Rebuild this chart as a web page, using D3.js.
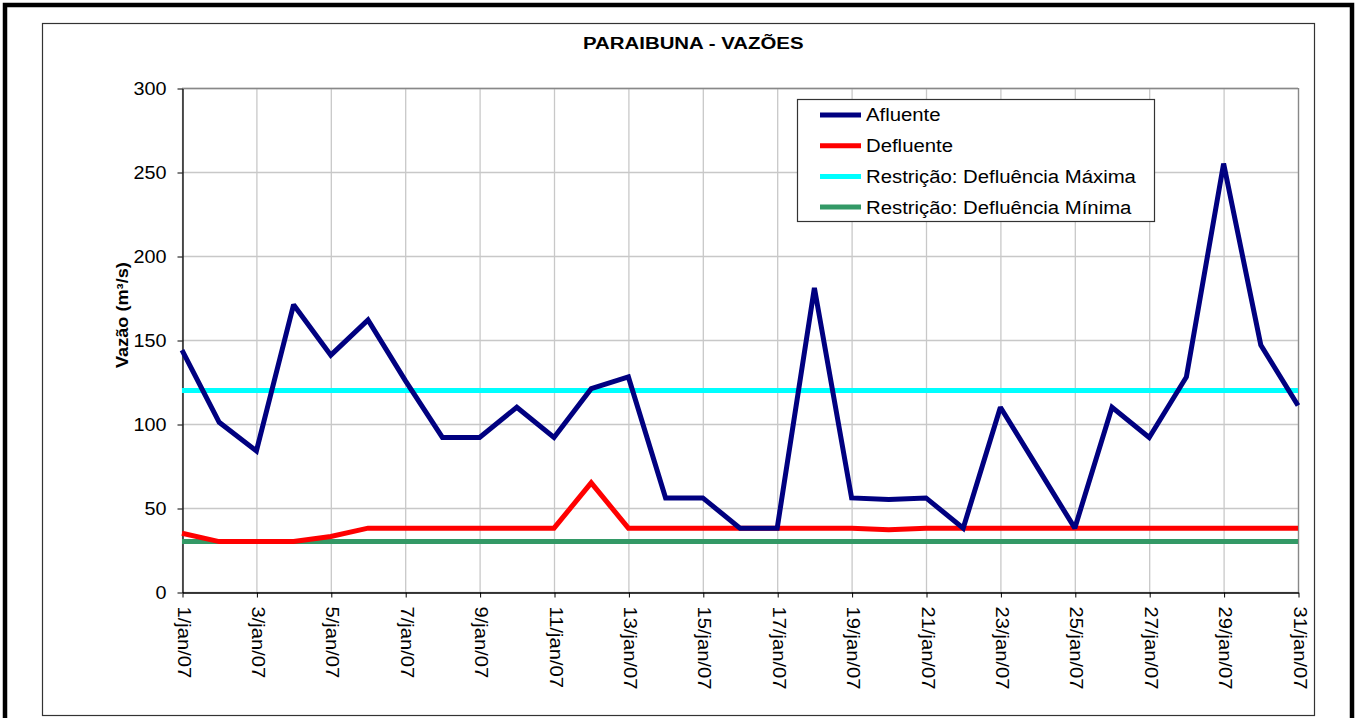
<!DOCTYPE html>
<html><head><meta charset="utf-8">
<script src="https://cdn.jsdelivr.net/npm/d3@7"></script>
<style>body{margin:0;background:#fff}svg{display:block;font-family:"Liberation Sans",Arial,sans-serif}</style>
</head><body><svg id="c" width="1360" height="718"></svg>
<script>
const days = d3.range(1, 32);
const afluente = [144,101,84,171,141,162,126,92,92,110,92,121,128,56,56,38,38,181,56,55,56,38,110,74,38,110,92,128,255,147,111];
const defluente = [35,30,30,30,33,38,38,38,38,38,38,65,38,38,38,38,38,38,38,37,38,38,38,38,38,38,38,38,38,38,38];
const restMax = days.map(() => 120);
const restMin = days.map(() => 30);
const yTicks = [0,50,100,150,200,250,300];
const xTickDays = d3.range(1, 32, 2);
const seriesNames = ["Afluente","Defluente","Restrição: Defluência Máxima","Restrição: Defluência Mínima"];
const seriesColors = ["#000080","#ff0000","#00ffff","#339966"];
const seriesData = [afluente, defluente, restMax, restMin];

const svg = d3.select("#c");
svg.append("rect").attr("x",5).attr("y",5).attr("width",1347).attr("height",720).attr("fill","none").attr("stroke","#000").attr("stroke-width",4.5);
svg.append("rect").attr("x",42.5).attr("y",23.5).attr("width",1272).attr("height",692).attr("fill","none").attr("stroke","#333").attr("stroke-width",1.2);

const x = d3.scaleLinear().domain([1,31]).range([182,1298]);
const y = d3.scaleLinear().domain([0,300]).range([592,88]);

const g = svg.append("g");
g.selectAll(".hg").data(yTicks).enter().append("line")
  .attr("x1",182).attr("x2",1298).attr("y1",d=>y(d)+0.5).attr("y2",d=>y(d)+0.5)
  .attr("stroke","#c8c8c8").attr("stroke-width",1.3);
g.selectAll(".vg").data(xTickDays).enter().append("line")
  .attr("y1",88).attr("y2",592).attr("x1",d=>x(d)+0.5).attr("x2",d=>x(d)+0.5)
  .attr("stroke","#c8c8c8").attr("stroke-width",1.3);
svg.append("line").attr("x1",1298.5).attr("x2",1298.5).attr("y1",88).attr("y2",592).attr("stroke","#888").attr("stroke-width",1.3);
svg.append("line").attr("x1",182).attr("x2",1298).attr("y1",88.5).attr("y2",88.5).attr("stroke","#888").attr("stroke-width",1.3);

const FF = "Liberation Sans, Arial, sans-serif";
const yAxis = svg.append("g").attr("transform","translate(182.5,0.5)")
  .call(d3.axisLeft(y).tickValues(yTicks).tickSize(5).tickPadding(0).tickSizeOuter(0));
yAxis.select(".domain").attr("stroke","#000").attr("stroke-width",1.3);
yAxis.selectAll("text").attr("font-size",18).attr("fill","#000").attr("font-family",FF)
  .attr("x",0).attr("transform","translate(-16,0) scale(1.1,1)");

const fmt = d => d + "/jan/07";
const xAxis = svg.append("g").attr("transform","translate(0.5,592.5)")
  .call(d3.axisBottom(x).tickValues(xTickDays).tickSize(5).tickSizeOuter(0).tickFormat(fmt));
xAxis.select(".domain").attr("stroke","#000").attr("stroke-width",1.3);
xAxis.selectAll("text").attr("font-size",18).attr("fill","#000").attr("font-family",FF)
  .attr("transform","rotate(90) translate(14,0) scale(1.12,1)").attr("text-anchor","start").attr("x",0).attr("y",-1).attr("dy","0.35em");

const line = d3.line().x((d,i)=>x(days[i])).y(d=>y(d));
[3,2,1,0].forEach(k => {
  svg.append("path").datum(seriesData[k]).attr("d",line).attr("fill","none")
    .attr("stroke",seriesColors[k]).attr("stroke-width",5).attr("stroke-linejoin","miter").attr("stroke-miterlimit",2);
});

svg.append("text").attr("transform","translate(583,49) scale(1.2,1)").attr("font-size",17).attr("font-weight","bold").text("PARAIBUNA - VAZÕES");
svg.append("text").attr("transform","translate(128,368) rotate(-90) scale(1.1,1)").attr("font-size",16.5).attr("font-weight","bold").text("Vazão (m³/s)");

const lg = svg.append("g");
lg.append("rect").attr("x",797.5).attr("y",99.5).attr("width",357).attr("height",122).attr("fill","#fff").attr("stroke","#333").attr("stroke-width",1.2);
seriesNames.forEach((n,i) => {
  const yy = 115 + i*30.7;
  lg.append("line").attr("x1",820).attr("x2",861).attr("y1",yy).attr("y2",yy).attr("stroke",seriesColors[i]).attr("stroke-width",5);
  lg.append("text").attr("transform",`translate(866,${yy}) scale(1.13,1)`).attr("dy","0.36em").attr("font-size",18).text(n);
});
</script></body></html>
